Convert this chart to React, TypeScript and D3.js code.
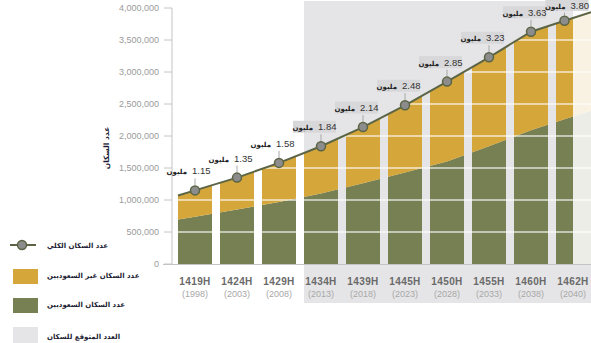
import React from 'react';
import * as d3 from 'd3';

const hijriYears = ['1419H', '1424H', '1429H', '1434H', '1439H', '1445H', '1450H', '1455H', '1460H', '1462H'];
const gregorianYears = ['(1998)', '(2003)', '(2008)', '(2013)', '(2018)', '(2023)', '(2028)', '(2033)', '(2038)', '(2040)'];
// millions
const totalPopulation = [1.15, 1.35, 1.58, 1.84, 2.14, 2.48, 2.85, 3.23, 3.63, 3.80];
const saudiPopulation = [0.74, 0.85, 0.97, 1.10, 1.26, 1.43, 1.60, 1.84, 2.09, 2.26];
const yTicks = [0, 500000, 1000000, 1500000, 2000000, 2500000, 3000000, 3500000, 4000000];
const shadedFrom = '1434H';
const unitLabel = 'مليون';
const yTitle = 'عدد السكان';
const legendItems = [
  { key: 'total', label: 'عدد السكان الكلي' },
  { key: 'nonSaudi', label: 'عدد السكان غير السعوديين' },
  { key: 'saudi', label: 'عدد السكان السعوديين' },
  { key: 'expected', label: 'العدد المتوقع للسكان' },
];

const W = 591;
const H = 343;
const YELLOW = '#d5a63a';
const GREEN = '#778053';
const BG_GREY = '#e5e5e7';
const LINE = '#5b6545';
const NUM_FONT = '"Liberation Sans", Arial, sans-serif';
const AR_FONT = '"DejaVu Sans", sans-serif';

export default function App() {
  const y = d3.scaleLinear().domain([0, 4000000]).range([264, 8]);
  const x = d3.scaleBand<string>().domain(hijriYears).range([178, 590]).paddingInner(8 / 42).paddingOuter(0);
  const bw = x.bandwidth();
  const lastCat = hijriYears[hijriYears.length - 1];
  const clipEnd = (x(lastCat) as number) + bw / 2;

  const px = hijriYears.map((c) => {
    const s = x(c) as number;
    const e = Math.min(s + bw, clipEnd);
    return (s + e) / 2;
  });

  const leftEdge = x(hijriYears[0]) as number;
  const rightEdge = W;
  const n = hijriYears.length;
  const extrap = (arr: number[], xv: number, i0: number, i1: number) =>
    arr[i0] + ((arr[i1] - arr[i0]) * (xv - px[i0])) / (px[i1] - px[i0]);

  type P = { x: number; total: number; saudi: number };
  const pts: P[] = [
    { x: leftEdge, total: extrap(totalPopulation, leftEdge, 0, 1), saudi: extrap(saudiPopulation, leftEdge, 0, 1) },
    ...px.map((xx, i) => ({ x: xx, total: totalPopulation[i], saudi: saudiPopulation[i] })),
    {
      x: rightEdge,
      total: extrap(totalPopulation, rightEdge, n - 2, n - 1),
      saudi: extrap(saudiPopulation, rightEdge, n - 2, n - 1),
    },
  ];

  const greenArea = d3
    .area<P>()
    .x((d) => d.x)
    .y0(y(0))
    .y1((d) => y(d.saudi * 1e6))(pts) as string;
  const yellowArea = d3
    .area<P>()
    .x((d) => d.x)
    .y0((d) => y(d.saudi * 1e6))
    .y1((d) => y(d.total * 1e6))(pts) as string;
  const totalArea = d3
    .area<P>()
    .x((d) => d.x)
    .y0(y(0))
    .y1((d) => y(d.total * 1e6))(pts) as string;
  const totalLine = d3
    .line<P>()
    .x((d) => d.x)
    .y((d) => y(d.total * 1e6))(pts) as string;

  const shadeX = x(shadedFrom) as number;
  const shadedIdx = hijriYears.indexOf(shadedFrom);
  const fmt = d3.format(',');

  return (
    <div style={{ position: 'absolute', left: 0, top: 0 }}>
      <svg width={W} height={H} viewBox={`0 0 ${W} ${H}`} style={{ display: 'block' }}>
        <defs>
          <clipPath id="bands">
            {hijriYears.map((c) => {
              const s = x(c) as number;
              const e = Math.min(s + bw, clipEnd);
              return <rect key={c} x={s} y={0} width={e - s} height={y(0)} />;
            })}
            <rect x={clipEnd} y={0} width={W - clipEnd} height={y(0)} />
          </clipPath>
          <clipPath id="underTotal">
            <path d={totalArea} />
          </clipPath>
        </defs>

        {/* shaded projection background */}
        <rect x={shadeX} y={1} width={W - shadeX} height={302} fill={BG_GREY} />

        {/* areas clipped into columns */}
        <g clipPath="url(#bands)">
          <path d={greenArea} fill={GREEN} />
          <path d={yellowArea} fill={YELLOW} />
        </g>

        {/* faded expected region */}
        <rect x={clipEnd} y={0} width={W - clipEnd} height={y(0)} fill="#fff" opacity={0.86} />

        {/* gridlines */}
        <g clipPath="url(#underTotal)">
          {yTicks.slice(1).map((t) => (
            <line key={t} x1={172} x2={W} y1={y(t)} y2={y(t)} stroke="#fff" strokeOpacity={0.75} strokeWidth={1.3} />
          ))}
        </g>

        {/* y axis */}
        <line x1={172} x2={172} y1={y(4000000)} y2={y(0)} stroke="#c4c4c4" strokeWidth={1} />
        {yTicks.map((t) => (
          <g key={t}>
            <line x1={164} x2={172} y1={y(t)} y2={y(t)} stroke="#c4c4c4" strokeWidth={1} />
            <text x={159} y={y(t)} dy="0.35em" textAnchor="end" fontFamily={NUM_FONT} fontSize={9} fill="#9a9a9a">
              {fmt(t)}
            </text>
          </g>
        ))}
        <text
          transform={`translate(106,148) rotate(-90)`}
          textAnchor="middle"
          dy="0.35em"
          fontFamily={AR_FONT}
          fontSize={7.5}
          fontWeight="bold"
          fill="#1c1c34"
        >
          {yTitle}
        </text>

        {/* x axis */}
        <line x1={163} x2={W} y1={264.5} y2={264.5} stroke="#c4c4c4" strokeWidth={1} />
        {hijriYears.map((c, i) => {
          const cx = (x(c) as number) + bw / 2;
          return (
            <g key={c}>
              <text x={cx} y={285} textAnchor="middle" fontFamily={NUM_FONT} fontSize={10} fontWeight="bold" fill="#6a6a6a" letterSpacing={0.4}>
                {c}
              </text>
              <text x={cx} y={296.5} textAnchor="middle" fontFamily={NUM_FONT} fontSize={9} fill="#a8a8a8">
                {gregorianYears[i]}
              </text>
            </g>
          );
        })}

        {/* total line */}
        <path d={totalLine} fill="none" stroke={LINE} strokeWidth={2} />

        {/* labels */}
        {totalPopulation.map((v, i) => {
          const cx = px[i];
          const cy = y(v * 1e6);
          const rawBase = cy - 16;
          const base = Math.max(rawBase, 8.5);
          const dx = rawBase < 8.5 ? 9 : 0;
          const lx = cx + dx;
          const boxed = i >= shadedIdx;
          return (
            <g key={i}>
              {boxed && <rect x={lx - 28} y={base - 9.5} width={43} height={12} fill="#d8d8da" />}
              <line x1={cx} x2={cx} y1={base + 4} y2={cy - 5} stroke="#a8a8a8" strokeWidth={1} />
              <text x={lx - 3} y={base} textAnchor="start" fontFamily={NUM_FONT} fontSize={9.5} fill="#333">
                {v.toFixed(2)}
              </text>
              <text x={lx - 8} y={base} textAnchor="end" fontFamily={AR_FONT} fontSize={7} fontWeight="bold" fill="#222">
                {unitLabel}
              </text>
            </g>
          );
        })}

        {/* points */}
        {totalPopulation.map((v, i) => (
          <circle key={i} cx={px[i]} cy={y(v * 1e6)} r={4.5} fill="#8c8c8c" stroke={LINE} strokeWidth={1.5} />
        ))}

        {/* legend */}
        <g>
          <line x1={10} x2={36} y1={245} y2={245} stroke={LINE} strokeWidth={2} />
          <circle cx={22} cy={245} r={4.5} fill="#8c8c8c" stroke={LINE} strokeWidth={1.5} />
          <rect x={13} y={269} width={25} height={15} fill={YELLOW} />
          <rect x={13} y={298} width={25} height={15} fill={GREEN} />
          <rect x={13} y={327} width={25} height={16} fill={BG_GREY} />
          {legendItems.map((it, i) => (
            <text
              key={it.key}
              x={47}
              y={[247.5, 277.5, 306.5, 339][i]}
              textAnchor="start"
              fontFamily={AR_FONT}
              fontSize={7}
              fontWeight="bold"
              fill="#1c1c34"
            >
              {it.label}
            </text>
          ))}
        </g>
      </svg>
    </div>
  );
}
